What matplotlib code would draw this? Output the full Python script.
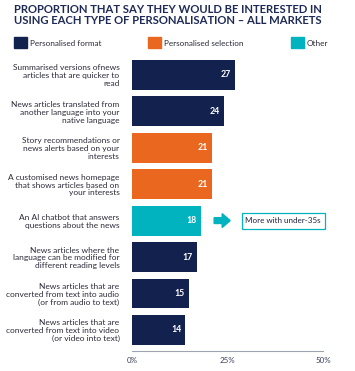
import matplotlib.pyplot as plt
from matplotlib.patches import FancyArrow, Rectangle

labels = [
    'Summarised versions ofnews\narticles that are quicker to\nread',
    'News articles translated from\nanother language into your\nnative language',
    'Story recommendations or\nnews alerts based on your\ninterests',
    'A customised news homepage\nthat shows articles based on\nyour interests',
    'An AI chatbot that answers\nquestions about the news',
    'News articles where the\nlanguage can be modified for\ndifferent reading levels',
    'News articles that are\nconverted from text into audio\n(or from audio to text)',
    'News articles that are\nconverted from text into video\n(or video into text)',
]
values = [27, 24, 21, 21, 18, 17, 15, 14]
groups = ['format', 'format', 'selection', 'selection', 'other', 'format', 'format', 'format']
group_names = {'format': 'Personalised format', 'selection': 'Personalised selection', 'other': 'Other'}
xticks = [0, 25, 50]

navy = '#13214f'
orange = '#e9671f'
teal = '#00b3bf'
colors = {'format': navy, 'selection': orange, 'other': teal}
font = 'Lato'

fig = plt.figure(figsize=(3.55, 3.71), dpi=100)
ax = fig.add_axes([132/355, 1 - 351/371, 191/355, (351 - 53)/371])

ypos = list(range(len(values)))
ax.barh(ypos, values, height=0.82, color=[colors[g] for g in groups])
for y, v in zip(ypos, values):
    ax.text(v - 1.1, y, str(v), ha='right', va='center', color='white',
            fontsize=6.3, fontweight='bold', family=font)

ax.set_xlim(0, 50)
ax.set_ylim(7.58, -0.6)
ax.set_yticks(ypos)
ax.set_yticklabels(labels, fontsize=6.0, family=font, color='#2b2b3a', linespacing=1.15)
ax.set_xticks(xticks)
ax.set_xticklabels([f'{t}%' for t in xticks], fontsize=5.8, family=font, color='#3a3f5c')
ax.tick_params(length=0, pad=4)
ax.tick_params(axis='y', pad=9)
for s in ['top', 'right', 'left']:
    ax.spines[s].set_visible(False)
ax.spines['bottom'].set_color('#a0a4b0')
ax.spines['bottom'].set_linewidth(0.8)

# arrow + note for the chatbot bar
ax.add_patch(FancyArrow(21.5, 4, 4.2, 0, width=0.16, head_width=0.38, head_length=2.1,
                        length_includes_head=True, color=teal, clip_on=False))
ax.add_patch(Rectangle((28.7, 4 - 0.22), 21.8, 0.44, facecolor='white', edgecolor=teal,
                       linewidth=0.9, clip_on=False))
ax.text(39.6, 4, 'More with under-35s', ha='center', va='center', fontsize=5.8,
        family=font, color='#1d2340')

fig.text(14/355, 1 - 4/371, 'PROPORTION THAT SAY THEY WOULD BE INTERESTED IN\nUSING EACH TYPE OF PERSONALISATION \u2013 ALL MARKETS',
         ha='left', va='top', fontsize=8.1, fontweight='bold', family=font, color='#1e2a55',
         linespacing=1.0)

# legend
for x0, key in zip([14, 148, 291], ['format', 'selection', 'other']):
    fig.patches.append(Rectangle((x0/355, 1 - 48/371), 13/355, 11/371, color=colors[key],
                                 transform=fig.transFigure, figure=fig))
    fig.text((x0 + 16)/355, 1 - 43/371, group_names[key], ha='left', va='center',
             fontsize=5.9, family=font, color='#2b2b3a')

fig.savefig('out.png', dpi=100)
